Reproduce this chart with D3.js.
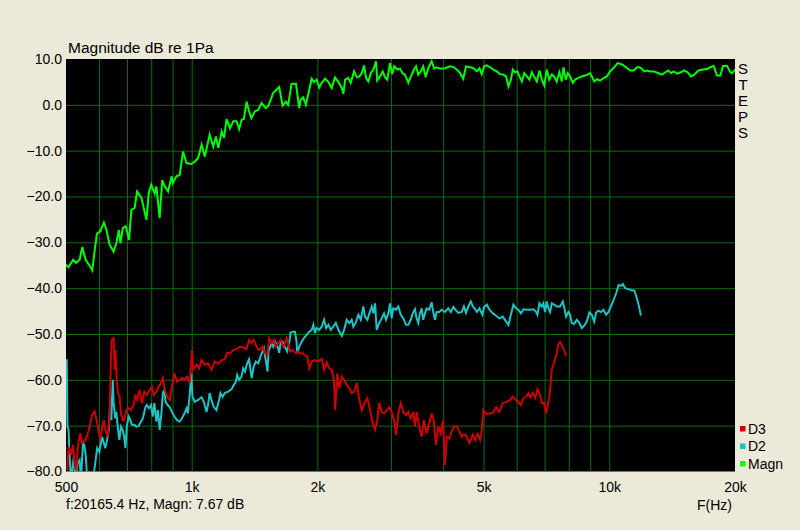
<!DOCTYPE html>
<html>
<head>
<meta charset="utf-8">
<script src="https://cdn.jsdelivr.net/npm/d3@7"></script>
<style>
  body { margin: 0; background: #ece9d8; }
  svg { display: block; font-family: "Liberation Sans", Arial, sans-serif; }
</style>
</head>
<body>
<svg id="chart" width="800" height="530"></svg>
<script>
// measured curves: [frequency Hz, level dB]
const magnPoints = [
  [500,-34.9],[507,-35.4],[520,-33.8],[529,-34.5],[539,-33.8],[547,-31],[557,-33.8],[570,-35.1],[578,-36.1],[586,-31.6],
  [593,-28.1],[604,-27.6],[616,-25.7],[625,-27.3],[636,-30.5],[650,-32],[660,-30.2],[669,-27.3],[675,-30.2],[684,-26.9],
  [695,-26.5],[708,-29.5],[717,-22.9],[730,-22.5],[740,-18.9],[758,-20.3],[779,-25.1],[789,-19.3],[800,-17.4],[815,-19.3],
  [823,-17.8],[838,-24.7],[850,-16.4],[862,-17.8],[878,-18.9],[895,-15.6],[902,-17.1],[919,-15.6],[936,-15.3],[953,-10.2],
  [972,-12.7],[998,-12.9],[1017,-12.4],[1036,-11.6],[1056,-8.7],[1075,-11.3],[1104,-6.5],[1126,-9.1],[1143,-6.9],[1158,-9.4],
  [1180,-5.8],[1195,-7.2],[1212,-3.1],[1235,-5.1],[1258,-3.6],[1281,-3.6],[1299,-5.3],[1316,-3.3],[1333,-3.1],[1353,0.7],
  [1372,-1.4],[1390,-2.9],[1416,-1.4],[1443,-1.1],[1470,0.4],[1505,-0.7],[1525,-0.3],[1568,2.6],[1620,3.9],[1651,-0.2],
  [1681,0.7],[1702,0],[1735,4.6],[1777,4.6],[1809,-0.7],[1823,1.1],[1849,1.6],[1877,0],[1912,3.3],[1938,5.7],
  [1962,5],[1991,5.5],[2021,3.8],[2048,4.8],[2087,5.7],[2125,5],[2164,3.7],[2203,6],[2245,5],[2288,3.7],
  [2308,2.4],[2330,5.5],[2372,5.9],[2403,4.8],[2448,7.3],[2486,6],[2521,6.2],[2554,6.9],[2586,8.6],[2615,5.9],
  [2649,5.1],[2684,6.9],[2723,7.7],[2763,9.5],[2782,5.3],[2824,6.2],[2867,7.3],[2904,6],[2941,5.5],[2984,9.1],
  [3022,6.7],[3056,8.4],[3108,7.7],[3154,7.9],[3200,6.9],[3242,6.6],[3302,4.8],[3364,6.6],[3406,7.7],[3444,8.4],
  [3488,6.6],[3534,7.3],[3584,8.4],[3633,6],[3686,8],[3755,9.5],[3809,7.9],[3860,8.2],[3945,7.9],[4040,8],
  [4157,8.4],[4235,8.2],[4315,7.7],[4392,6.9],[4470,5.7],[4537,8.4],[4642,8.2],[4729,8],[4818,7.3],[4887,8],
  [4950,6.7],[5012,8.4],[5090,8.6],[5185,8.2],[5280,7.7],[5379,7.3],[5474,6.7],[5576,6.6],[5662,6.2],[5735,4],
  [5812,5.5],[5875,7.7],[5949,7.1],[6024,7.3],[6093,6.2],[6176,5.1],[6255,6.9],[6349,6.2],[6438,5.5],[6522,7.1],
  [6607,6.2],[6707,5.1],[6803,7.5],[6893,5.5],[6989,4.2],[7084,7.7],[7176,5.5],[7284,6.6],[7376,6.2],[7484,5.1],
  [7594,7.1],[7696,5.1],[7765,8.2],[7868,5.5],[7953,6.9],[8055,6.2],[8177,4.8],[8282,5.5],[8432,5.9],[8592,6.2],
  [8752,6.4],[8864,6.6],[8995,6.9],[9082,6.2],[9199,5.1],[9337,5.6],[9505,5.3],[9720,5.9],[9865,6.2],[10046,7.3],
  [10238,8],[10470,9.1],[10725,8.8],[10974,8.2],[11228,7.5],[11437,7.5],[11652,8.2],[11817,8.2],[11968,7.8],[12124,7.3],
  [12310,7.5],[12538,7.3],[12814,7.3],[13119,6.9],[13373,6.6],[13619,7.1],[13866,7.5],[14048,6.9],[14256,7.3],[14528,6.8],
  [14848,7.1],[15120,7.5],[15402,7.1],[15692,6.2],[15974,6.6],[16364,7.5],[16764,7.7],[17136,7.8],[17456,8.2],[17776,8.5],
  [18112,6.4],[18449,6.4],[18724,8.5],[19140,8.5],[19495,7.1],[19677,6.9],[20000,7.7]
];

const d2Points = [
  [502,-55.5],[504,-70.2],[507,-70.9],[510,-76.8],[514,-82],[522,-76.8],[527,-82],[533,-78.2],[539,-77.5],[543,-82],
  [549,-73.8],[553,-74.2],[558,-76.8],[563,-83],[576,-84],[582,-81],[590,-76.8],[594,-74.9],[601,-75.7],[610,-72.4],
  [616,-73.8],[621,-74.9],[627,-73.1],[633,-70.9],[639,-63.7],[642,-68.8],[647,-60],[650,-65.1],[656,-68.4],[660,-67],
  [665,-70.2],[671,-73.1],[677,-70.2],[683,-70.9],[689,-72.4],[694,-74.9],[699,-70.2],[706,-68],[713,-68.8],[719,-69.8],
  [729,-69.8],[737,-70.2],[746,-70.1],[756,-69.1],[764,-68.4],[775,-65.9],[781,-65.5],[790,-66.2],[799,-65.5],[807,-68],
  [814,-65.1],[823,-69.1],[830,-66.6],[838,-70.9],[846,-67.3],[853,-62.9],[860,-62.2],[866,-64.8],[876,-65.5],[886,-66],
  [897,-67],[909,-68],[922,-68.8],[936,-69.1],[948,-68.4],[961,-67.3],[972,-66.2],[979,-67.3],[989,-63.3],[998,-58.6],
  [1004,-63.7],[1017,-64.8],[1036,-64.4],[1056,-63.8],[1069,-64.8],[1085,-67],[1094,-65.5],[1104,-62.9],[1115,-64.4],[1129,-65.9],
  [1146,-66.6],[1163,-64.4],[1172,-62.9],[1185,-63.7],[1200,-62.9],[1223,-62.6],[1246,-62],[1262,-61.1],[1276,-60.4],[1285,-58.9],
  [1299,-60],[1316,-59.3],[1328,-57.5],[1341,-58.2],[1358,-56.4],[1372,-55.5],[1383,-57.8],[1392,-59.6],[1408,-57.1],[1424,-56],
  [1443,-56.4],[1462,-54.9],[1478,-53.8],[1489,-53.1],[1499,-54.9],[1510,-56.7],[1519,-58.2],[1527,-53.8],[1538,-53.1],[1553,-52],
  [1568,-52.8],[1585,-51.7],[1602,-52.4],[1620,-54.1],[1633,-52],[1651,-51.7],[1672,-52.8],[1693,-53.8],[1712,-52],[1725,-49.7],
  [1745,-49.5],[1767,-49.5],[1783,-51.7],[1789,-54.2],[1809,-52.8],[1833,-51.7],[1857,-50.9],[1885,-50.2],[1912,-49.5],[1938,-49.1],
  [1956,-48],[1973,-49.8],[1991,-48.7],[2021,-49.1],[2048,-48.4],[2075,-46.9],[2099,-48.7],[2125,-48],[2153,-49.1],[2183,-48.4],
  [2214,-47.6],[2245,-49.1],[2288,-50.4],[2317,-49.1],[2351,-46.9],[2384,-47.6],[2416,-46.9],[2438,-48.4],[2476,-47.3],[2507,-45.8],
  [2540,-46.9],[2576,-44],[2600,-46.2],[2634,-46.9],[2664,-45.5],[2699,-44],[2723,-45.5],[2748,-43.3],[2773,-49.1],[2812,-47.6],
  [2851,-46.6],[2888,-45.5],[2920,-46.9],[2957,-45.5],[2984,-43.3],[3012,-46.6],[3039,-44.4],[3085,-44.7],[3125,-44],[3166,-45.8],
  [3211,-46.6],[3260,-48],[3302,-48],[3346,-46.9],[3382,-45.5],[3425,-44.6],[3457,-46.6],[3488,-47.6],[3520,-45.5],[3553,-44.4],
  [3584,-46.9],[3618,-45.5],[3652,-44.4],[3705,-44.7],[3755,-43.1],[3788,-45.2],[3823,-46.9],[3860,-45.2],[3915,-45.2],[3966,-44.7],
  [4040,-45.2],[4118,-44.4],[4174,-45.2],[4235,-44.1],[4298,-44.9],[4352,-45.4],[4432,-45.2],[4486,-44],[4537,-45.4],[4597,-44],
  [4660,-42.9],[4713,-44],[4774,-44.6],[4818,-45.2],[4887,-44.4],[4967,-45.8],[5012,-44.1],[5090,-43.6],[5165,-44.7],[5263,-45.5],
  [5358,-46],[5454,-46.6],[5557,-46.2],[5662,-47.3],[5735,-48],[5812,-45.8],[5895,-43.6],[5981,-44.4],[6059,-44.7],[6142,-45.5],
  [6232,-44.6],[6349,-44.7],[6463,-44.7],[6581,-44.6],[6681,-45.2],[6729,-45.8],[6803,-43.3],[6893,-44],[6952,-43.3],[7016,-45.2],
  [7084,-42.9],[7148,-44.4],[7216,-45.2],[7284,-43.3],[7376,-43.6],[7484,-44],[7623,-44],[7739,-42.9],[7808,-44.4],[7880,-46.2],
  [7979,-45.2],[8055,-45.8],[8132,-47.6],[8237,-47.8],[8360,-46.9],[8477,-47.6],[8592,-48.7],[8704,-48.2],[8835,-47.3],[8961,-45.3],
  [9082,-45.8],[9199,-47.3],[9301,-45.3],[9418,-44.9],[9543,-45.2],[9683,-44.7],[9828,-45.8],[9952,-45.2],[10087,-44],[10238,-42.6],
  [10395,-41],[10528,-39.3],[10667,-39.5],[10783,-39.1],[10916,-40],[11114,-40.2],[11335,-40.5],[11481,-40.5],[11608,-41.8],[11753,-43.6],
  [11905,-46]
];

const d3Points = [
  [504,-79.7],[507,-74.6],[514,-76.4],[520,-74.2],[525,-79],[529,-79.7],[535,-73.8],[541,-71.7],[546,-73.8],[553,-73.5],
  [561,-72.4],[570,-70.2],[577,-67.7],[585,-66.9],[593,-69.1],[598,-71.3],[604,-72.8],[610,-70.6],[616,-68.8],[621,-70.9],
  [629,-72.4],[636,-68],[640,-57.1],[643,-51.3],[650,-50.9],[654,-57.8],[657,-53.5],[662,-60.7],[666,-62.9],[672,-63.7],
  [677,-67.3],[683,-68.8],[689,-68.8],[697,-66.6],[706,-66.2],[716,-66.6],[726,-65.5],[733,-63.3],[740,-64.4],[750,-62.2],
  [760,-65.1],[770,-62.6],[781,-63.3],[793,-62.2],[803,-61.5],[811,-63.3],[823,-62.6],[833,-61.5],[844,-60.7],[853,-59.6],
  [862,-62.2],[873,-63.7],[886,-64.4],[897,-61.5],[909,-58.6],[922,-60.4],[936,-60],[948,-59.6],[961,-60],[975,-59.3],
  [989,-60.7],[1002,-53.5],[1008,-57.8],[1027,-56.7],[1042,-57.5],[1056,-55.7],[1075,-56.7],[1094,-56.4],[1115,-57.8],[1136,-56],
  [1158,-56.5],[1180,-55.7],[1200,-55.5],[1216,-54.1],[1235,-54.2],[1258,-53.5],[1281,-53.3],[1304,-52.8],[1328,-52.9],[1353,-53.3],
  [1372,-51.3],[1390,-52],[1408,-51.3],[1430,-52.8],[1451,-53.5],[1478,-52.8],[1497,-54.2],[1516,-54.6],[1533,-50.9],[1554,-52],
  [1574,-51.3],[1591,-52.8],[1611,-52],[1633,-51.3],[1657,-52.8],[1672,-52],[1688,-50.9],[1702,-52],[1719,-53.8],[1745,-53.5],
  [1777,-54.2],[1799,-53.8],[1816,-54.2],[1843,-54.2],[1867,-54.6],[1890,-54.9],[1912,-57.5],[1938,-56],[1973,-55.7],[2009,-56],
  [2048,-55.4],[2075,-57.8],[2106,-56.2],[2136,-57.5],[2164,-57.8],[2190,-60],[2206,-66.6],[2231,-58.6],[2257,-61.8],[2288,-59.3],
  [2317,-60],[2351,-61.1],[2384,-61.8],[2416,-62.9],[2448,-62.6],[2486,-60.7],[2521,-64.4],[2554,-66.6],[2600,-64.8],[2634,-64],
  [2674,-66.6],[2714,-69.5],[2748,-70.9],[2782,-68.8],[2812,-65.1],[2851,-67],[2888,-67.3],[2931,-66.6],[2973,-66],[3012,-67],
  [3051,-68.8],[3085,-72],[3125,-67.3],[3166,-65.1],[3211,-67],[3260,-67.7],[3302,-67],[3346,-68.4],[3393,-67],[3425,-70.2],
  [3457,-67],[3507,-70.2],[3553,-72.4],[3598,-68.8],[3652,-71.7],[3705,-69.5],[3755,-67.3],[3802,-69.1],[3845,-74.2],[3894,-70.2],
  [3945,-71.7],[4000,-68.8],[4040,-78.6],[4080,-72.4],[4141,-72.8],[4197,-71.2],[4251,-70.2],[4315,-70.1],[4376,-71.3],[4432,-72.4],
  [4470,-72],[4537,-72],[4624,-73.8],[4713,-72],[4774,-73.1],[4834,-71.8],[4905,-73.1],[4950,-70.9],[4992,-66.6],[5069,-67.4],
  [5165,-67.4],[5263,-67.2],[5358,-66],[5454,-67],[5557,-65.1],[5662,-64.8],[5767,-64.5],[5875,-63.7],[5981,-64.5],[6059,-64.8],
  [6142,-65.5],[6232,-64],[6325,-63.7],[6404,-62.9],[6463,-63.8],[6559,-62.8],[6644,-64],[6729,-62],[6829,-63.3],[6893,-65.1],
  [6978,-65],[7056,-67.3],[7108,-65.9],[7188,-63.7],[7284,-57.8],[7348,-56.7],[7416,-55.6],[7484,-54.2],[7551,-52.2],[7623,-51.7],
  [7696,-52.4],[7794,-53.5],[7880,-54.8]
];

// axes, grid and legend labels
const yTicks = [10, 0, -10, -20, -30, -40, -50, -60, -70, -80];
const yGrid = [0, -10, -20, -30, -40, -50, -60, -70];
const xTicks = [500, 1000, 2000, 5000, 10000, 20000];
const xTickLabels = ["500", "1k", "2k", "5k", "10k", "20k"];
const xGrid = [600, 700, 800, 900, 1000, 2000, 3000, 4000, 5000, 6000, 7000, 8000, 9000, 10000];
const legendNames = ["D3", "D2", "Magn"];
const sideLetters = ["S", "T", "E", "P", "S"];

const colors = { D3: "#cc0000", D2: "#1ec3c6", Magn: "#00ff00" };

const svg = d3.select("#chart");
const margin = { top: 59, left: 66 };
const plotW = 669, plotH = 412.5;

const x = d3.scaleLog().domain([500, 20000]).range([0, plotW]);
const y = d3.scaleLinear().domain([-80, 10]).range([plotH, 0]);

const plot = svg.append("g").attr("transform", `translate(${margin.left},${margin.top})`);

plot.append("rect")
  .attr("width", plotW).attr("height", plotH)
  .attr("fill", "#000");

plot.append("clipPath").attr("id", "clip")
  .append("rect").attr("width", plotW).attr("height", plotH);

// grid
const gridColor = "#0a6e0a";
plot.append("g")
  .call(d3.axisBottom(x).tickValues(xGrid).tickSize(plotH).tickFormat(""))
  .call(g => g.select(".domain").remove())
  .call(g => g.selectAll("line").attr("stroke", gridColor));
plot.append("g")
  .call(d3.axisLeft(y).tickValues(yGrid).tickSize(-plotW).tickFormat(""))
  .call(g => g.select(".domain").remove())
  .call(g => g.selectAll("line").attr("stroke", gridColor));

// tick labels
plot.append("g")
  .call(d3.axisLeft(y).tickValues(yTicks).tickSize(0).tickPadding(4).tickFormat(d3.format(".1f")))
  .call(g => g.select(".domain").remove())
  .call(g => g.selectAll("text").attr("font-size", 14).attr("font-family", null).attr("fill", "#000"));

plot.append("g")
  .attr("transform", `translate(0,${plotH})`)
  .call(d3.axisBottom(x).tickValues(xTicks).tickSize(0).tickPadding(11)
    .tickFormat((d, i) => xTickLabels[i]))
  .call(g => g.select(".domain").remove())
  .call(g => g.selectAll("text").attr("font-size", 14).attr("font-family", null).attr("fill", "#000"));

// curves
const line = d3.line().x(d => x(d[0])).y(d => y(d[1]));
const curves = plot.append("g").attr("clip-path", "url(#clip)");
[["Magn", magnPoints], ["D2", d2Points], ["D3", d3Points]].forEach(([name, pts]) => {
  curves.append("path")
    .datum(pts)
    .attr("d", line)
    .attr("fill", "none")
    .attr("stroke", colors[name])
    .attr("stroke-width", 2)
    .attr("stroke-linejoin", "miter");
});

// titles
svg.append("text").attr("x", 68).attr("y", 53).attr("font-size", 15.5).text("Magnitude dB re 1Pa");
svg.append("text").attr("x", 66).attr("y", 509).attr("font-size", 14).text("f:20165.4 Hz, Magn: 7.67 dB");
svg.append("text").attr("x", 697).attr("y", 510).attr("font-size", 14).text("F(Hz)");

svg.selectAll(".side").data(sideLetters).enter().append("text")
  .attr("class", "side")
  .attr("x", 743).attr("y", (d, i) => 73.5 + i * 16.2)
  .attr("text-anchor", "middle").attr("font-size", 15)
  .text(d => d);

// legend
const leg = svg.selectAll(".leg").data(legendNames).enter().append("g")
  .attr("class", "leg")
  .attr("transform", (d, i) => `translate(740,${426 + i * 17.5})`);
leg.append("rect").attr("width", 5.5).attr("height", 5.5).attr("fill", d => colors[d]);
leg.append("text").attr("x", 8).attr("y", 7.5).attr("font-size", 14).text(d => d);
</script>
</body>
</html>
